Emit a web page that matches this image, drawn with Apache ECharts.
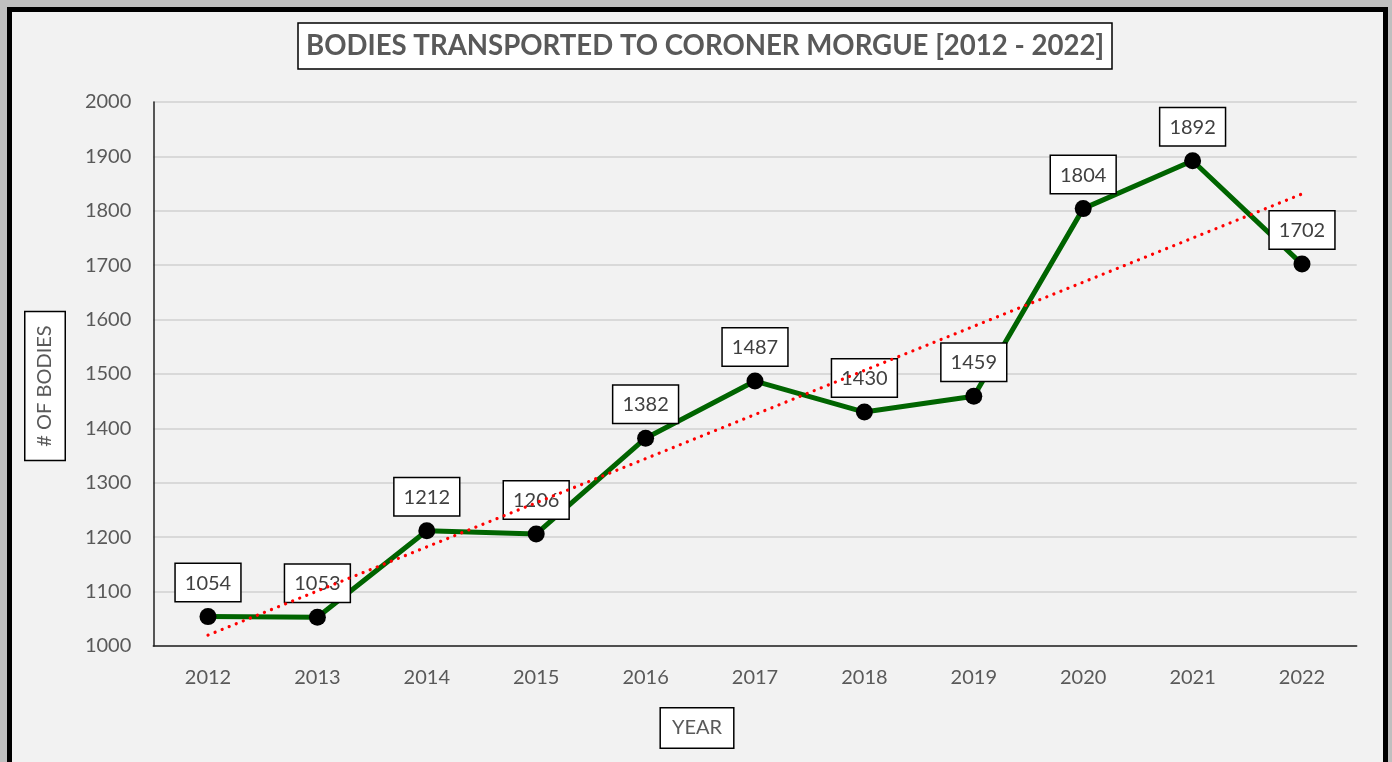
<!DOCTYPE html>
<html><head><meta charset="utf-8">
<script src="https://cdn.jsdelivr.net/npm/echarts@6/dist/echarts.min.js"></script>
<style>html,body{margin:0;padding:0;background:#bfbfbf;}#c{width:1392px;height:762px;}</style>
</head><body><div id="c"></div>
<script>
const years = ['2012','2013','2014','2015','2016','2017','2018','2019','2020','2021','2022'];
const bodies = [1054, 1053, 1212, 1206, 1382, 1487, 1430, 1459, 1804, 1892, 1702];
const trendStart = 1020;
const trendEnd = 1831;
const yTicks = {min: 1000, max: 2000, interval: 100};

const FONT = 'Lato';
const boxText = {fontFamily: FONT, fontSize: 20, fill: '#595959', backgroundColor: '#fff', borderColor: '#000', borderWidth: 1.5, padding: [10, 11, 9, 11], align: 'center', verticalAlign: 'middle'};
const chart = echarts.init(document.getElementById('c'), null, {renderer: 'canvas'});
chart.setOption({
  backgroundColor: '#bfbfbf',
  animation: false,
  graphic: [{
    type: 'rect', z: -10, silent: true,
    shape: {x: 9.5, y: 9.5, width: 1376, height: 800},
    style: {fill: '#f2f2f2', stroke: '#000', lineWidth: 5}
  }, {
    type: 'text', x: 697, y: 728, z: 10,
    style: Object.assign({text: 'YEAR'}, boxText)
  }, {
    type: 'text', x: 45, y: 386, rotation: Math.PI / 2, z: 10,
    style: Object.assign({text: '# OF BODIES'}, boxText, {padding: [10, 13, 9, 13]})
  }],
  title: {
    text: 'BODIES TRANSPORTED TO CORONER MORGUE [2012 - 2022]',
    left: 298, top: 23,
    backgroundColor: '#fff', borderColor: '#000', borderWidth: 1.5,
    padding: [9, 8, 9, 8],
    textStyle: {fontFamily: FONT, fontWeight: 'bold', fontSize: 27.6, color: '#595959'}
  },
  grid: {left: 153.3, right: 35.3, top: 102, bottom: 116, containLabel: false},
  xAxis: {
    type: 'category', data: years, boundaryGap: true,
    axisLine: {lineStyle: {color: '#222', width: 1.5}},
    axisTick: {show: false},
    axisLabel: {fontFamily: FONT, fontSize: 20, color: '#595959', margin: 22}
  },
  yAxis: {
    type: 'value', min: yTicks.min, max: yTicks.max, interval: yTicks.interval,
    axisLine: {show: true, lineStyle: {color: '#222', width: 1.5}},
    axisTick: {show: false},
    axisLabel: {fontFamily: FONT, fontSize: 20, color: '#595959', margin: 22, formatter: v => String(v)},
    splitLine: {lineStyle: {color: '#d9d9d9', width: 2}}
  },
  series: [{
    type: 'line', data: bodies, z: 3,
    lineStyle: {color: '#006400', width: 5},
    symbol: 'circle', symbolSize: 17,
    itemStyle: {color: '#000'},
    label: {
      show: true, position: 'top', distance: 7,
      fontFamily: FONT, fontSize: 20, color: '#404040',
      backgroundColor: '#fff', borderColor: '#000', borderWidth: 1.5,
      padding: [9, 9, 8, 9]
    }
  }, {
    type: 'line', z: 4, silent: true,
    data: [[years[0], trendStart], [years[years.length - 1], trendEnd]],
    symbol: 'none',
    lineStyle: {color: '#ff0000', width: 3.2, type: [0.1, 7.5], cap: 'round'}
  }]
});
</script></body></html>
